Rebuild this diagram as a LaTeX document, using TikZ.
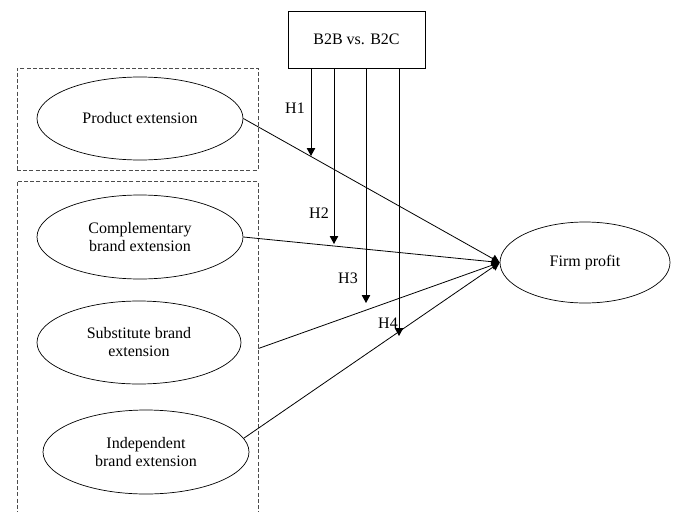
\documentclass[tikz,border=0pt]{standalone}
\usepackage{fontspec}
\setmainfont{Liberation Serif}
\usetikzlibrary{shapes.geometric,arrows.meta}
\begin{document}
\begin{tikzpicture}[x=1pt,y=-1pt,
  every node/.style={font=\fontsize{16}{18}\selectfont},
  ell/.style={draw,ellipse,line width=0.7pt,inner sep=0pt,align=center},
  dashbox/.style={draw=black!70,dash pattern=on 4pt off 2.2pt,line width=0.8pt,inner sep=0pt},
  conn/.style={line width=0.8pt,-{Triangle[length=8pt,width=8.5pt]}},
  hlab/.style={inner sep=0pt}]
\useasboundingbox (0,0) rectangle (676,511);
\node[dashbox,minimum width=241pt,minimum height=102pt] (box1) at (137.5,119) {};
\node[dashbox,minimum width=241pt,minimum height=335pt] (box2) at (137.5,348.5) {};
\node[draw,line width=0.7pt,minimum width=137pt,minimum height=57pt,inner sep=0pt] (bb) at (356.5,39.5) {B2B vs. B2C};
\node[ell,minimum width=206pt,minimum height=83pt] (pe) at (140,118.5) {Product extension};
\node[ell,minimum width=206pt,minimum height=84pt] (cb) at (140,237) {Complementary\\brand extension};
\node[ell,minimum width=204pt,minimum height=83pt] (sb) at (139,342.5) {Substitute brand\\extension};
\node[ell,minimum width=206pt,minimum height=84pt] (ib) at (146,452) {Independent\\brand extension};
\node[ell,minimum width=170pt,minimum height=81pt] (fp) at (585,262.5) {Firm profit};
\coordinate (t1) at (311,156);
\coordinate (t2) at (334,244);
\coordinate (t3) at (366,303);
\coordinate (t4) at (399,336);
\draw[conn] (bb.south -| t1) -- (t1);
\draw[conn] (bb.south -| t2) -- (t2);
\draw[conn] (bb.south -| t3) -- (t3);
\draw[conn] (bb.south -| t4) -- (t4);
\node[hlab] (h1) at (295,108) {H1};
\node[hlab] (h2) at (319,213) {H2};
\node[hlab] (h3) at (348,278) {H3};
\node[hlab] (h4) at (388,323) {H4};
\draw[conn] (pe.east) -- (fp.west);
\draw[conn] (cb.east) -- (fp.west);
\draw[conn] (box2.east) -- (fp.west);
\draw[conn] (ib.8) -- (fp.west);
\end{tikzpicture}
\end{document}
